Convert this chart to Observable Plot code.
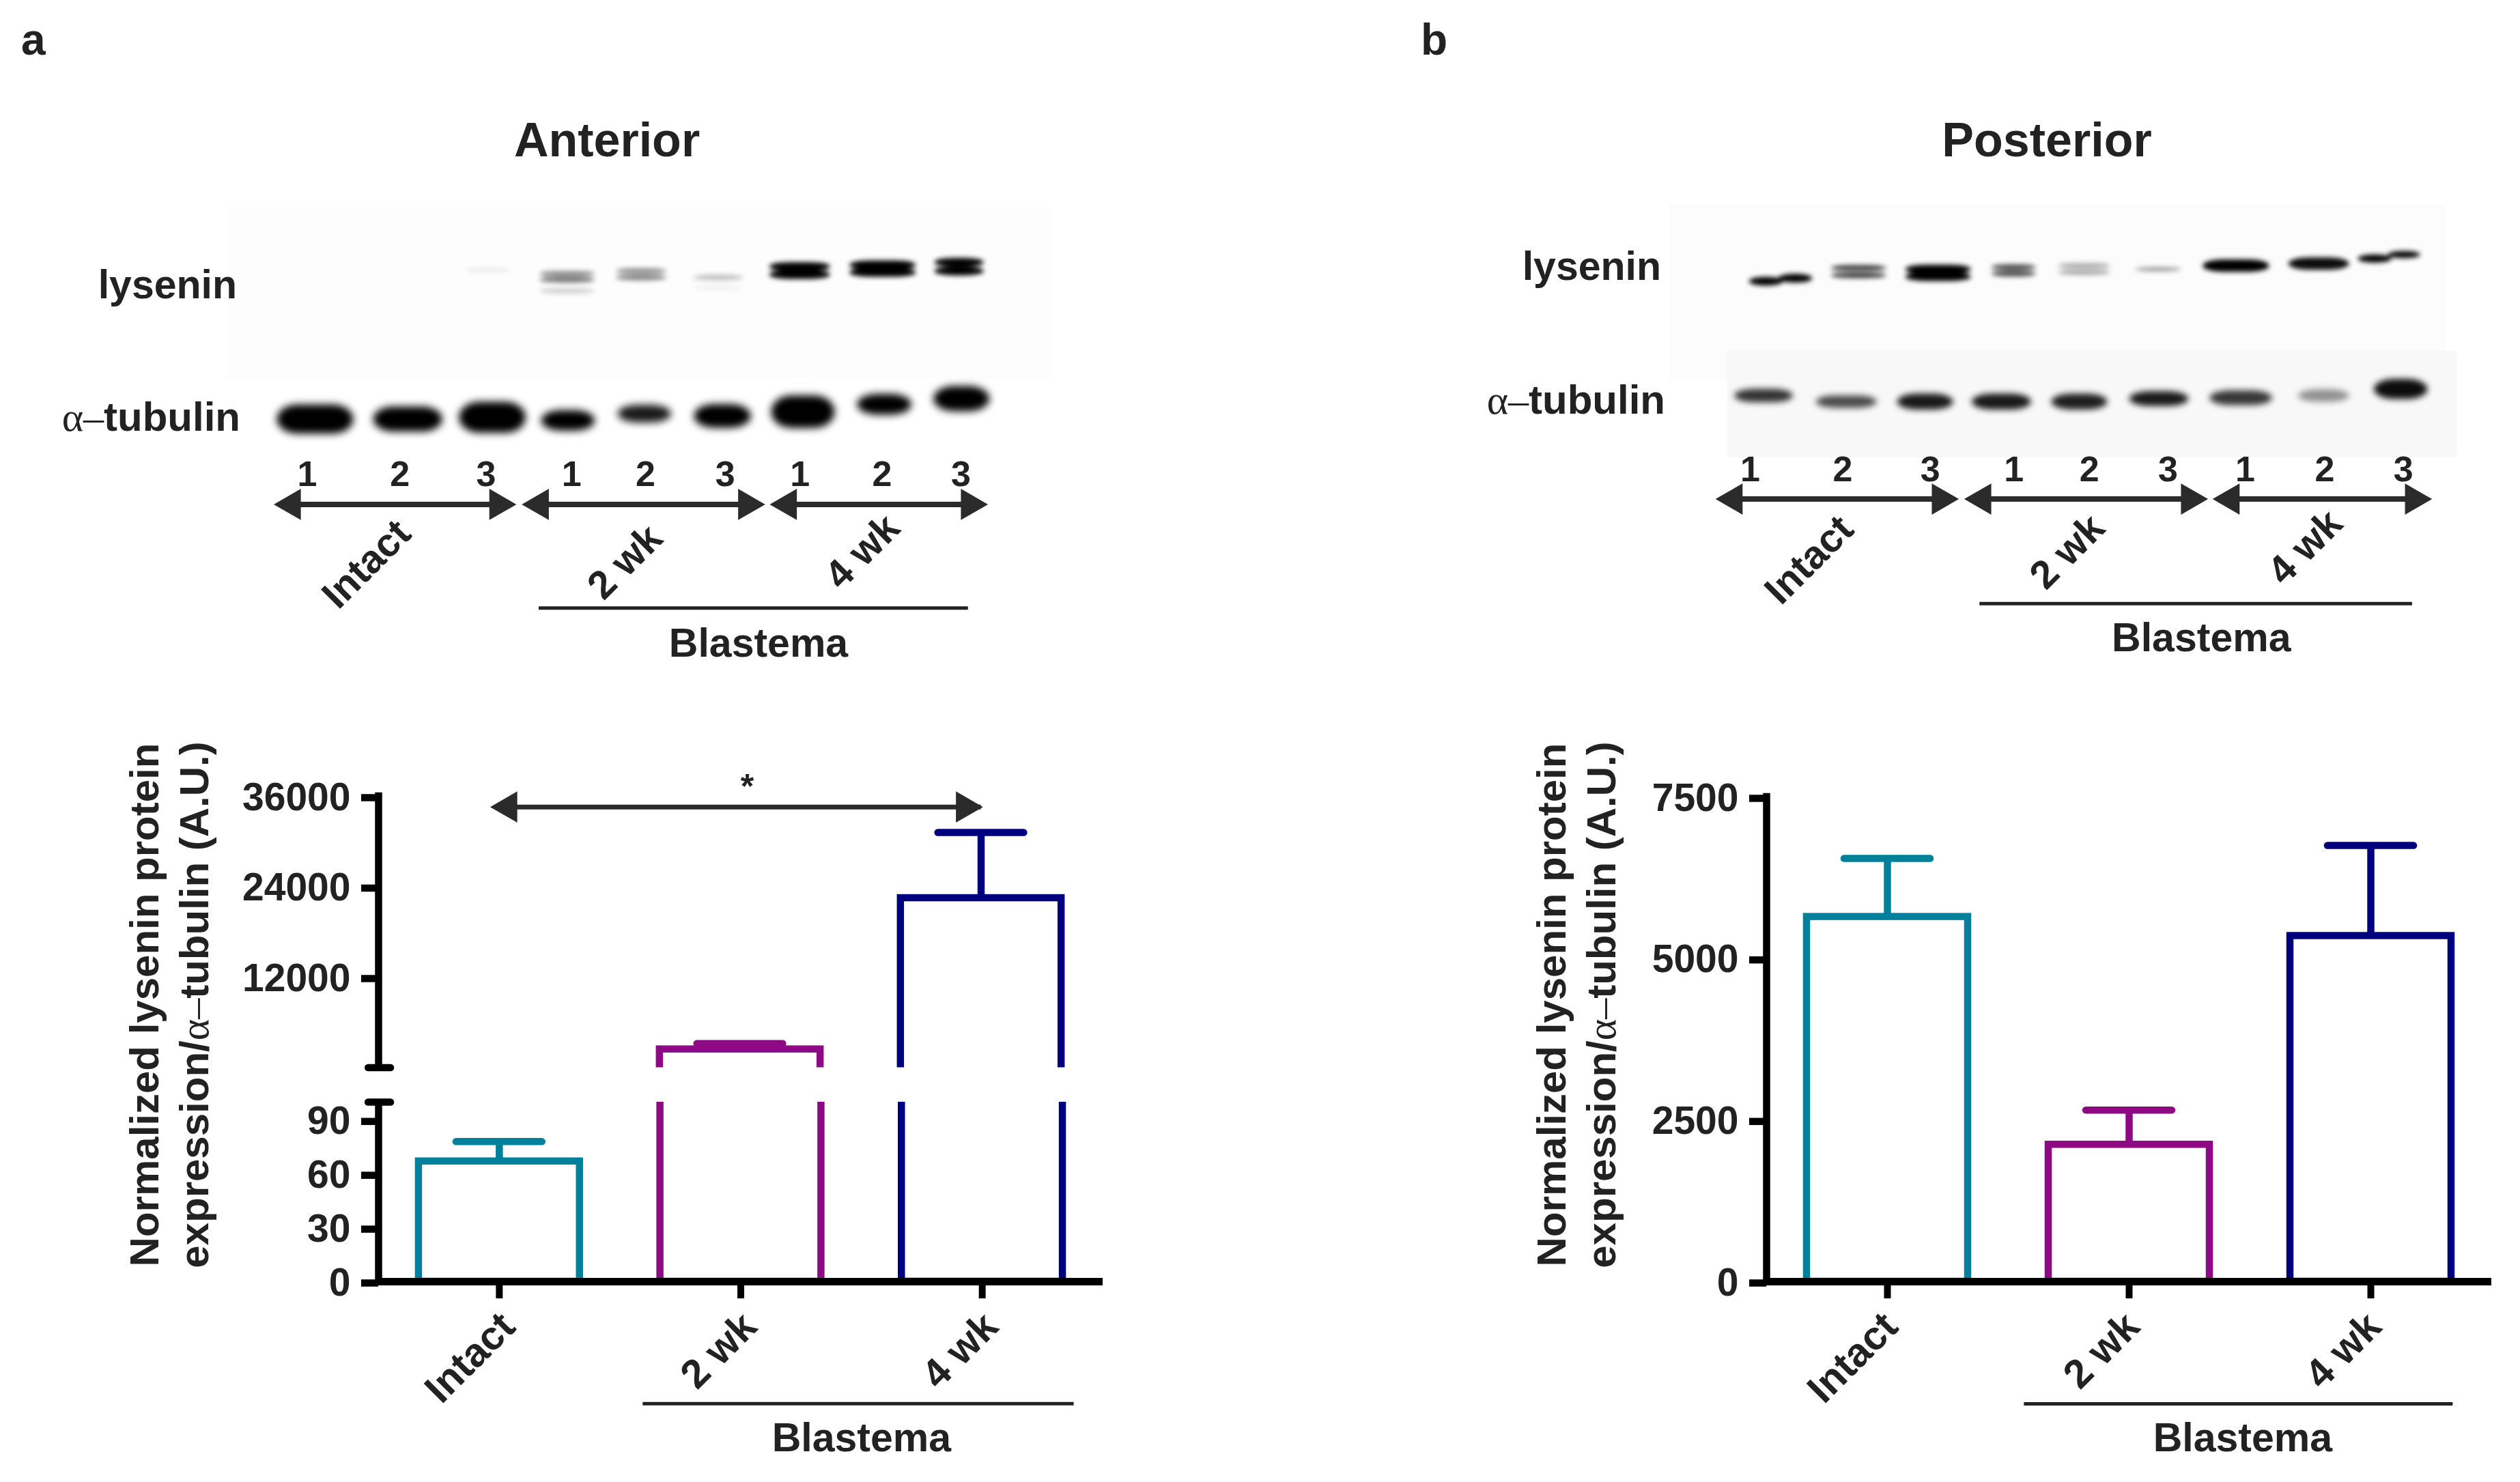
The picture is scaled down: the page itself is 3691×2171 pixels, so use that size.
<!DOCTYPE html>
<html><head><meta charset="utf-8">
<script src="https://cdn.jsdelivr.net/npm/d3@7"></script>
<script src="https://cdn.jsdelivr.net/npm/@observablehq/plot@0.6"></script>
<style>
html,body{margin:0;padding:0;background:#fff;overflow:hidden}
#page{position:relative;width:3691px;height:2171px;background:#fff;overflow:hidden;font-family:"Liberation Sans",Arial,sans-serif;font-weight:bold;color:#222}
#page>svg{position:absolute;overflow:visible;background:transparent}
.lab{position:absolute;white-space:pre;line-height:1}
.sym{font-family:"Liberation Serif",serif;font-weight:normal}
</style></head><body><div id="page"></div>
<script>
// ---------- bar chart values ----------
const categories = ["Intact", "2 wk", "4 wk"];
const barColors = ["#00819b", "#8e0a85", "#00007f"];
const anteriorMean = [67, 2430, 22500];
const anteriorTop = [78, 3200, 31200];
const posteriorMean = [5645, 2120, 5350];
const posteriorTop = [6550, 2655, 6750];
const anteriorUpperTicks = [12000, 24000, 36000];
const anteriorLowerTicks = [0, 30, 60, 90];
const posteriorTicks = [0, 2500, 5000, 7500];

// ---------- western blot readings (lane number, row: 0 = lysenin, 1 = tubulin) ----------
const laneNames = ["1", "2", "3", "1", "2", "3", "1", "2", "3"];
const antLaneLabel = [1.05, 2.19, 3.25, 4.30, 5.21, 6.19, 7.11, 8.12, 9.09];
const postLaneLabel = [0.96, 2.10, 3.18, 4.21, 5.14, 6.11, 7.06, 8.04, 9.01];

const antLysLane = [3.28, 4.25, 4.25, 4.25, 5.16, 5.16, 6.11, 6.11, 7.11, 7.11, 8.13, 8.13, 9.07, 9.07];
const antLysWide = [.55, .68, .68, .68, .62, .62, .61, .61, .75, .75, .82, .82, .61, .61];
const antLysRow = [0, .024, .065, .14, .006, .05, .05, .12, -.024, .03, -.035, .015, -.053, .006];
const antLysThick = [.015, .018, .018, .018, .018, .018, .018, .014, .03, .03, .03, .03, .03, .03];
const antLysDark = [.08, .45, .55, .18, .45, .5, .25, .06, 1, 1, 1, 1, 1, 1];

const antTubLane = [1.15, 2.29, 3.33, 4.26, 5.20, 6.16, 7.15, 8.15, 9.10];
const antTubWide = [.94, .85, .82, .66, .66, .70, .78, .67, .69];
const antTubRow = [1.006, 1.006, .994, 1.015, .97, .985, .956, .906, .868];
const antTubThick = [.098, .085, .105, .07, .06, .08, .11, .07, .085];
const antTubDark = [1, 1, 1, 1, .9, 1, 1, 1, 1];

const postLysLane = [1.16, 1.52, 2.30, 2.30, 3.28, 3.28, 4.21, 4.21, 5.08, 5.08, 5.99, 6.95, 7.97, 8.66, 9.02];
const postLysWide = [.42, .42, .68, .68, .81, .81, .55, .55, .64, .64, .57, .82, .75, .42, .4];
const postLysRow = [.075, .055, -.015, .035, -.006, .044, -.02, .024, -.03, .015, -.006, -.03, -.044, -.078, -.105];
const postLysThick = [.03, .03, .018, .018, .03, .03, .018, .018, .015, .015, .012, .042, .042, .028, .024];
const postLysDark = [1, 1, .8, .8, 1, 1, .75, .75, .38, .38, .45, 1, .95, 1, 1];

const postTubLane = [1.13, 2.15, 3.12, 4.06, 5.02, 6.0, 7.01, 8.03, 8.98];
const postTubWide = [.72, .75, .69, .73, .69, .73, .77, .63, .66];
const postTubRow = [.847, .888, .888, .888, .888, .868, .862, .847, .803];
const postTubThick = [.046, .042, .054, .054, .054, .05, .05, .042, .068];
const postTubDark = [.8, .7, .9, .9, .88, .9, .78, .42, .95];

const antArrows = [[.64, 3.62], [3.69, 6.68], [6.74, 9.42]];
const postArrows = [[.536, 3.53], [3.6, 6.6], [6.66, 9.36]];
const blotGroups = ["Intact", "2 wk", "4 wk"];
const antGroupLane = [1.78, 4.96, 7.88];
const antGroupRow = [1.985, 1.97, 1.90];
const postGroupLane = [1.69, 4.87, 7.80];
const postGroupRow = [1.956, 1.90, 1.87];

// ---------- helpers ----------
const page = document.getElementById("page");
const INK = "#222", FONT = '"Liberation Sans",Arial,sans-serif';
function label(html, x, y, size, align = "center", rot = 0) {
  const d = document.createElement("div");
  d.className = "lab";
  d.innerHTML = html;
  const tx = align === "center" ? "-50%" : align === "right" ? "-100%" : "0";
  d.style.cssText = `left:${x}px;top:${y}px;font-size:${size}px;transform:translate(${tx},-50%) rotate(${rot}deg);text-align:center`;
  if (rot) d.style.lineHeight = "73px";
  page.appendChild(d);
}
function put(svg, left, top) {
  svg.style.left = left + "px"; svg.style.top = top + "px";
  page.appendChild(svg);
  return svg;
}
const baseStyle = {fontFamily: FONT, fontWeight: "bold", color: INK, background: "transparent", overflow: "visible"};
const bandsOf = (lane, wide, row, thick, dark) =>
  lane.map((l, i) => ({x1: l - wide[i] / 2, x2: l + wide[i] / 2, y1: row[i] - thick[i], y2: row[i] + thick[i], dark: dark[i]}));

function blot(cfg) {
  const bandMarks = (data) => Plot.rect(data, {x1: "x1", x2: "x2", y1: "y1", y2: "y2", fill: "#000", fillOpacity: "dark", rx: 30});
  const arrows = cfg.arrows;
  const svg = Plot.plot({
    width: cfg.width, height: 1000, margin: 0,
    x: {domain: cfg.xDomain, axis: null},
    y: {domain: [2.786, -1.824], axis: null},
    opacity: {type: "identity"},
    style: baseStyle,
    marks: [
      Plot.rect(cfg.patches, {x1: "x1", x2: "x2", y1: "y1", y2: "y2", fill: "fill"}),
      bandMarks(cfg.lys),
      bandMarks(cfg.tub),
      Plot.text(laneNames, {x: (d, i) => cfg.laneLabel[i], y: cfg.laneRow, text: d => d, fontSize: 52, fill: INK}),
      Plot.ruleY(arrows, {x1: d => d[0] + .1, x2: d => d[1] - .1, y: cfg.arrowRow, stroke: "#2b2b2b", strokeWidth: 8}),
      Plot.dot(arrows, {x: d => d[0] + .22, y: cfg.arrowRow, symbol: "triangle", r: 17, rotate: -90, fill: "#2b2b2b", stroke: "none"}),
      Plot.dot(arrows, {x: d => d[1] - .22, y: cfg.arrowRow, symbol: "triangle", r: 17, rotate: 90, fill: "#2b2b2b", stroke: "none"}),
      Plot.text(blotGroups, {x: (d, i) => cfg.groupLane[i], y: (d, i) => cfg.groupRow[i], text: d => d, rotate: -45, fontSize: 58, fill: INK}),
      Plot.ruleY([cfg.lineRow], {x1: cfg.line[0], x2: cfg.line[1], stroke: "#222", strokeWidth: 5}),
      Plot.text(["Blastema"], {x: cfg.blastema[0], y: cfg.blastema[1], text: d => d, fontSize: 59, fill: INK})
    ]
  });
  const groups = svg.querySelectorAll('g[fill="#000"]');
  if (groups[0]) groups[0].style.filter = `blur(${cfg.blurLys}px)`;
  if (groups[1]) groups[1].style.filter = `blur(${cfg.blurTub}px)`;
  return svg;
}

function barMarks(rows, clip, lowFloor) {
  return [
    Plot.rect(rows, {x1: d => d.i - 1 / 3, x2: d => d.i + 1 / 3, y1: lowFloor, y2: "mean", fill: "none", stroke: "color", strokeWidth: 10.5, clip}),
    Plot.ruleX(rows.filter(d => d.show), {x: "i", y1: "mean", y2: "top", stroke: "color", strokeWidth: 10.5}),
    Plot.ruleY(rows.filter(d => d.show), {x1: d => d.i - .178, x2: d => d.i + .178, y: "top", stroke: "color", strokeWidth: 10.5, strokeLinecap: "round"})
  ];
}
const rowsOf = (mean, top, keep) => categories.map((c, k) => ({i: k + 1, cat: c, mean: mean[k], top: top[k], color: barColors[k], show: keep(top[k])}));
const xAxisMarks = (dx) => [
  Plot.axisX({ticks: [1, 2, 3], tickSize: 25, text: null, strokeWidth: 10, stroke: "#000", label: null, anchor: "bottom"}),
  Plot.axisX({ticks: [1, 2, 3], tickFormat: i => categories[i - 1], tickSize: 0, tickPadding: 56, tickRotate: -45,
    label: null, fontSize: 59, anchor: "bottom", fill: INK, dx})
];
const yAxisMarks = (ticks) => Plot.axisY({
  ticks, tickFormat: d3.format("d"), tickSize: 25, tickPadding: 16, strokeWidth: 10.5, stroke: "#000",
  label: null, fontSize: 57, anchor: "left", fill: INK, dy: 2
});

// ---------- panel a: blot ----------
put(blot({
  width: 1700, xDomain: [-2.725, 11.55], blurLys: 3.5, blurTub: 6,
  patches: [{x1: .05, x2: 10.2, y1: -.43, y2: .735, fill: "#fdfdfd"}],
  lys: bandsOf(antLysLane, antLysWide, antLysRow, antLysThick, antLysDark),
  tub: bandsOf(antTubLane, antTubWide, antTubRow, antTubThick, antTubDark),
  laneLabel: antLaneLabel, laneRow: 1.38, arrows: antArrows, arrowRow: 1.58,
  groupLane: antGroupLane, groupRow: antGroupRow, lineRow: 2.28, line: [3.90, 9.18], blastema: [6.60, 2.52]
}), 0, 0);
label("a", 31, 58, 64, "left");
label("Anterior", 889, 205, 70);
label("lysenin", 347, 417, 59, "right");
label('<span class="sym">α–</span>tubulin', 352, 611, 60, "right");

// ---------- panel a: broken-axis bar chart ----------
const antRowsUp = rowsOf(anteriorMean, anteriorTop, t => t > 100).filter(d => d.mean > 100);
const antRowsLow = rowsOf(anteriorMean, anteriorTop, t => t <= 100);
put(Plot.plot({
  width: 1059 + 200, height: 397.5 + 60 + 10,
  marginLeft: 200, marginRight: 0, marginTop: 60, marginBottom: 10,
  x: {domain: [.5, 3.5], axis: null},
  y: {domain: [0, 36000], axis: null},
  style: baseStyle,
  marks: [
    ...barMarks(antRowsUp, "frame", -2000),
    Plot.ruleX([.5], {y1: 0, y2: 36000, stroke: "#000", strokeWidth: 10.5, strokeLinecap: "square"}),
    yAxisMarks(anteriorUpperTicks),
    Plot.ruleY([0], {x1: .458, x2: .551, stroke: "#000", strokeWidth: 10.5, strokeLinecap: "round"}),
    Plot.ruleY([34580], {x1: 1, x2: 3, stroke: "#2b2b2b", strokeWidth: 7}),
    Plot.dot([1.038], {x: d => d, y: 34580, symbol: "triangle", r: 17, rotate: -90, fill: "#2b2b2b", stroke: "none"}),
    Plot.dot([2.933], {x: d => d, y: 34580, symbol: "triangle", r: 17, rotate: 90, fill: "#2b2b2b", stroke: "none"}),
    Plot.text(["*"], {x: 2.03, y: 37200, text: d => d, fontSize: 50, fill: INK})
  ]
}), 554 - 200, 1166 - 60);

put(Plot.plot({
  width: 1061 + 200, height: 263 + 10 + 260,
  marginLeft: 200, marginRight: 0, marginTop: 10, marginBottom: 260,
  x: {domain: [.5, 3.5], axis: null},
  y: {domain: [0, 100], axis: null},
  style: baseStyle,
  marks: [
    ...barMarks(antRowsLow, "frame", 0),
    Plot.ruleX([.5], {y1: 0, y2: 100, stroke: "#000", strokeWidth: 10.5}),
    yAxisMarks(anteriorLowerTicks),
    Plot.ruleY([100], {x1: .458, x2: .551, stroke: "#000", strokeWidth: 10.5, strokeLinecap: "round"}),
    Plot.ruleY([0], {x1: .5, x2: 3.5, stroke: "#000", strokeWidth: 11}),
    ...xAxisMarks(13),
    Plot.ruleY([-68], {x1: 1.595, x2: 3.38, stroke: "#222", strokeWidth: 5}),
    Plot.text(["Blastema"], {x: 2.5, y: -87.3, text: d => d, fontSize: 59, fill: INK})
  ]
}), 554 - 200, 1614 - 10);

const yTitle = 'Normalized lysenin protein\nexpression/<span class="sym">α–</span>tubulin (A.U.)';
label(yTitle, 247.5, 1472, 60, "center", -90);

// ---------- panel b: blot ----------
put(blot({
  width: 1641, xDomain: [-3.354, 10.45], blurLys: 3.5, blurTub: 5,
  patches: [{x1: -.03, x2: 9.54, y1: -.44, y2: .735, fill: "#fcfcfc"}, {x1: .68, x2: 9.67, y1: .546, y2: 1.265, fill: "#f8f8f8"}],
  lys: bandsOf(postLysLane, postLysWide, postLysRow, postLysThick, postLysDark),
  tub: bandsOf(postTubLane, postTubWide, postTubRow, postTubThick, postTubDark),
  laneLabel: postLaneLabel, laneRow: 1.347, arrows: postArrows, arrowRow: 1.544,
  groupLane: postGroupLane, groupRow: postGroupRow, lineRow: 2.25, line: [3.79, 9.12], blastema: [6.52, 2.485]
}), 2050, 0);
label("b", 2081, 58, 64, "left");
label("Posterior", 2998, 205, 70);
label("lysenin", 2433, 390, 59, "right");
label('<span class="sym">α–</span>tubulin', 2439, 586, 60, "right");

// ---------- panel b: bar chart ----------
const postRows = rowsOf(posteriorMean, posteriorTop, () => true);
put(Plot.plot({
  width: 1062 + 200, height: 710 + 10 + 260,
  marginLeft: 200, marginRight: 0, marginTop: 10, marginBottom: 260,
  x: {domain: [.5, 3.5], axis: null},
  y: {domain: [0, 7500], axis: null},
  style: baseStyle,
  marks: [
    ...barMarks(postRows, "frame", 0),
    Plot.ruleX([.5], {y1: 0, y2: 7500, stroke: "#000", strokeWidth: 10.5, strokeLinecap: "square"}),
    yAxisMarks(posteriorTicks),
    Plot.ruleY([0], {x1: .5, x2: 3.5, stroke: "#000", strokeWidth: 11}),
    ...xAxisMarks(5),
    Plot.ruleY([-1890], {x1: 1.566, x2: 3.34, stroke: "#222", strokeWidth: 5}),
    Plot.text(["Blastema"], {x: 2.47, y: -2430, text: d => d, fontSize: 59, fill: INK})
  ]
}), 2587 - 200, 1167 - 10);
label(yTitle, 2309, 1472, 60, "center", -90);
</script></body></html>
